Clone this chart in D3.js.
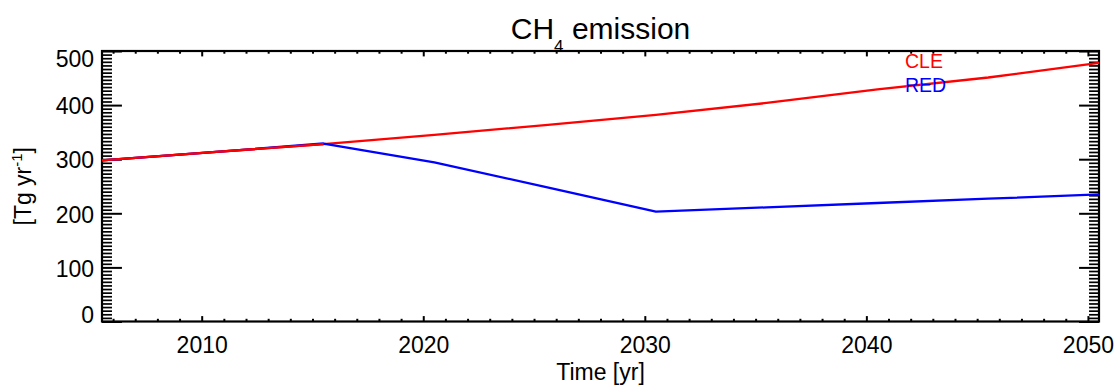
<!DOCTYPE html>
<html>
<head>
<meta charset="utf-8">
<script src="https://cdn.jsdelivr.net/npm/d3@7"></script>
<style>
  html, body { margin: 0; padding: 0; background: #fff; }
  svg { display: block; font-family: "Liberation Sans", Arial, Helvetica, sans-serif; }
  .axis path { display: none; }
  .axis line { stroke: #000; }
  .axis text { fill: #000; font-size: 23px; font-family: "Liberation Sans", Arial, sans-serif; }
</style>
</head>
<body>
<svg id="chart" width="1116" height="385"></svg>
<script>
// Emission years (mid-year) and scenario series, Tg/yr
const years = [2005.5, 2010.5, 2015.5, 2020.5, 2025.5, 2030.5, 2035.5, 2040.5, 2045.5, 2050.5];
const cleValues = [298, 313, 328, 345, 363, 382, 404, 429, 451, 478];
const redValues = [298, 313, 329, 294, 249, 203, 211, 219, 227, 235];
const seriesNames = ["CLE", "RED"];
const seriesColors = ["#ff0000", "#0000ff"];
const xTickValues = [2010, 2020, 2030, 2040, 2050];
const yTickValues = [0, 100, 200, 300, 400, 500];

const svg = d3.select("#chart");
const pLeft = 102, pRight = 1099, pTop = 51, pBottom = 321.5;
const plotW = pRight - pLeft, plotH = pBottom - pTop;

const x = d3.scaleLinear().domain([2005.5, 2050.5]).range([pLeft, pRight]);
const y = d3.scaleLinear().domain([0, 500]).range([pBottom, pTop]);

// tick lengths proportional to the perpendicular plot size
const yMajorLen = 0.02 * plotW, yMinorLen = yMajorLen / 2;
const xMajorLen = 0.02 * plotH, xMinorLen = xMajorLen / 2;

const xMinor = d3.range(2006, 2051, 1).filter(v => v % 10 !== 0);
const yMinor = d3.range(0, 500, 100 / 15).filter(v => Math.abs(v % 100) > 1e-6 && Math.abs(v % 100 - 100) > 1e-6);

// bottom axis
svg.append("g").attr("class", "axis").attr("transform", `translate(0,${pBottom})`)
  .call(d3.axisBottom(x).tickValues(xMinor).tickSize(-xMinorLen).tickFormat(""))
  .selectAll("line").attr("stroke-width", 2);
svg.append("g").attr("class", "axis").attr("transform", `translate(0,${pBottom})`)
  .call(d3.axisBottom(x).tickValues(xTickValues).tickSize(-xMajorLen).tickPadding(15).tickFormat(d3.format("d")))
  .selectAll("line").attr("stroke-width", 2);

// top axis
svg.append("g").attr("class", "axis").attr("transform", `translate(0,${pTop})`)
  .call(d3.axisTop(x).tickValues(xMinor).tickSize(-xMinorLen).tickFormat(""))
  .selectAll("line").attr("stroke-width", 2);
svg.append("g").attr("class", "axis").attr("transform", `translate(0,${pTop})`)
  .call(d3.axisTop(x).tickValues(xTickValues).tickSize(-xMajorLen).tickFormat(""))
  .selectAll("line").attr("stroke-width", 2);

// left axis
svg.append("g").attr("class", "axis").attr("transform", `translate(${pLeft},0)`)
  .call(d3.axisLeft(y).tickValues(yMinor).tickSize(-yMinorLen).tickFormat(""))
  .selectAll("line").attr("stroke-width", 1.7);
const yAxisG = svg.append("g").attr("class", "axis").attr("transform", `translate(${pLeft},0)`)
  .call(d3.axisLeft(y).tickValues(yTickValues).tickSize(-yMajorLen).tickPadding(8).tickFormat(d3.format("d")));
yAxisG.selectAll("line").attr("stroke-width", 2);
yAxisG.selectAll("text").attr("dy", d => d === 500 ? "0.68em" : d === 0 ? "0.04em" : "0.38em");

// right axis
svg.append("g").attr("class", "axis").attr("transform", `translate(${pRight},0)`)
  .call(d3.axisRight(y).tickValues(yMinor).tickSize(-yMinorLen).tickFormat(""))
  .selectAll("line").attr("stroke-width", 1.7);
svg.append("g").attr("class", "axis").attr("transform", `translate(${pRight},0)`)
  .call(d3.axisRight(y).tickValues(yTickValues).tickSize(-yMajorLen).tickFormat(""))
  .selectAll("line").attr("stroke-width", 2);

// plot frame
svg.append("rect")
  .attr("x", pLeft).attr("y", pTop).attr("width", plotW).attr("height", plotH)
  .attr("fill", "none").attr("stroke", "#000").attr("stroke-width", 2.2);

// series lines
const line = d3.line().x((d, i) => x(years[i])).y(d => y(d));
[cleValues, redValues].forEach((vals, k) => {
  svg.append("path").datum(vals)
    .attr("d", line)
    .attr("fill", "none")
    .attr("stroke", seriesColors[k])
    .attr("stroke-width", 2.3)
    .attr("stroke-linejoin", "round");
});
// CLE drawn over RED where they coincide
svg.append("path").datum(cleValues.slice(0, 3))
  .attr("d", line).attr("fill", "none").attr("stroke", seriesColors[0]).attr("stroke-width", 2.3);

// legend
seriesNames.forEach((name, k) => {
  svg.append("text")
    .attr("x", 905).attr("y", 68 + k * 24)
    .attr("fill", seriesColors[k])
    .attr("font-size", 19.5)
    .text(name);
});

// title
const title = svg.append("text")
  .attr("x", (pLeft + pRight) / 2).attr("y", 39)
  .attr("text-anchor", "middle").attr("font-size", 30).attr("fill", "#000");
title.append("tspan").text("CH");
title.append("tspan").attr("dy", 13).attr("font-size", 17).text("4");
title.append("tspan").attr("dy", -13).text(" emission");

// axis titles
svg.append("text")
  .attr("x", (pLeft + pRight) / 2).attr("y", 380)
  .attr("text-anchor", "middle").attr("font-size", 23).attr("fill", "#000")
  .text("Time [yr]");

const yTitle = svg.append("text")
  .attr("transform", `translate(31,${(pTop + pBottom) / 2}) rotate(-90)`)
  .attr("text-anchor", "middle").attr("font-size", 23).attr("fill", "#000");
yTitle.append("tspan").text("[Tg yr");
yTitle.append("tspan").attr("dy", -9).attr("font-size", 15).text("-1");
yTitle.append("tspan").attr("dy", 9).text("]");
</script>
</body>
</html>
